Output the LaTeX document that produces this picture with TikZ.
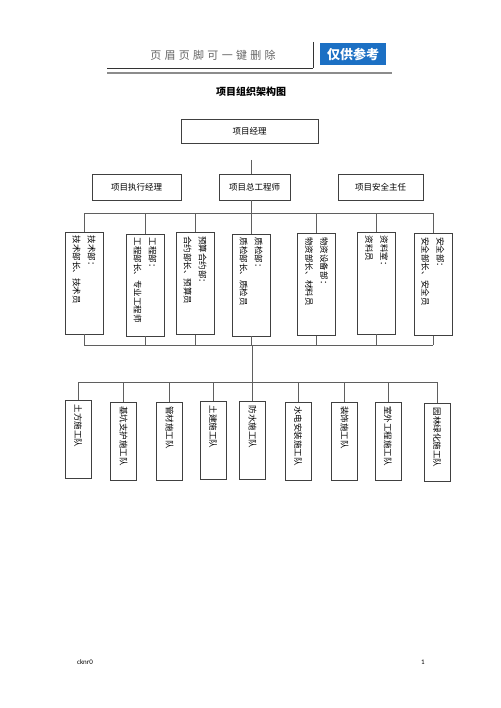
\documentclass[tikz,border=0pt]{standalone}
\usepackage{fontspec}
\setmainfont{Noto Sans CJK SC}
\newfontfamily\footfont{Carlito}
\usepackage{graphicx}
\usetikzlibrary{calc}
\definecolor{tagblue}{RGB}{28,112,196}
\definecolor{linegray}{RGB}{95,95,95}
\newcommand{\vtext}[2][94pt]{\rotatebox{-90}{\parbox{#1}{\fontsize{8.5}{15}\selectfont\raggedright #2}}}

\begin{document}
\begin{tikzpicture}[x=1pt,y=-1pt,line width=0.8pt,font=\fontsize{8.5}{10}\selectfont]
        \tikzstyle{box}=[rectangle,draw=black!75,inner sep=4pt]
        \tikzstyle{head}=[box,minimum height=26pt]
        \tikzstyle{dept}=[box,minimum width=38pt,minimum height=102pt]
        \tikzstyle{team}=[box,minimum width=26pt,minimum height=78pt]
        \tikzstyle{link}=[draw=linegray]
        \useasboundingbox (0,0) rectangle (500,708);
        \node[text=black!60,font=\fontsize{11}{11}\selectfont] (hdr) at (213,55) {\addfontfeatures{LetterSpace=30}页眉页脚可一键删除};
        \node[fill=tagblue,text=white,minimum width=66pt,minimum height=22pt,font=\bfseries\fontsize{13}{13}\selectfont] (tag) at (353,54) {仅供参考};
        \draw[black!80,line width=0.6pt] (107,68) -- (313,68);
        \draw[black!80,line width=0.6pt] (313,42) -- (313,68);
        \draw[black!45,line width=1.5pt] (107,73) -- (392,73);
        \node[font=\bfseries\fontsize{10}{10}\selectfont] (title) at (251,92) {项目组织架构图};
        \node[head,minimum width=137pt,minimum height=24pt] (pm) at (249.5,131) {项目经理};
        \node[head,minimum width=89pt] (exec) at (136.5,187) {项目执行经理};
        \node[head,minimum width=71pt] (chief) at (254.5,187) {项目总工程师};
        \node[head,minimum width=85pt] (safety) at (380.5,187) {项目安全主任};
        \node[dept] (d1) at (84,283) {\vtext{技术部：\\技术部长、技术员}};
        \node[dept] (d2) at (145,285) {\vtext{工程部：\\工程部长、专业工程师}};
        \node[dept] (d3) at (195,283.5) {\vtext{预算合约部：\\合约部长、预算员}};
        \node[dept] (d4) at (251,285) {\vtext{质检部：\\质检部长、质检员}};
        \node[dept] (d5) at (316.5,284.5) {\vtext{物资设备部：\\物资部长、材料员}};
        \node[dept] (d6) at (376.5,283) {\vtext{资料室：\\资料员}};
        \node[dept] (d7) at (433,284.5) {\vtext{安全部：\\安全部长、安全员}};
        \node[team] (t1) at (78,439.5) {\vtext[70pt]{土方施工队}};
        \node[team] (t2) at (123.5,441) {\vtext[70pt]{基坑支护施工队}};
        \node[team] (t3) at (169.5,441) {\vtext[70pt]{管材施工队}};
        \node[team] (t4) at (213,440.5) {\vtext[70pt]{土建施工队}};
        \node[team] (t5) at (252.5,440.5) {\vtext[70pt]{防水施工队}};
        \node[team] (t6) at (298,441) {\vtext[70pt]{水电安装施工队}};
        \node[team] (t7) at (344.5,441) {\vtext[70pt]{装饰施工队}};
        \node[team] (t8) at (388,441) {\vtext[70pt]{室外工程施工队}};
        \node[team] (t9) at (437,442.5) {\vtext[70pt]{园林绿化施工队}};
        \node[font=\footfont\fontsize{7}{7}\selectfont] (foot) at (85,662) {cknr0};
        \node[font=\footfont\fontsize{7}{7}\selectfont] (page) at (423,662) {1};
        \coordinate (top) at (251,160);
        \coordinate (bar1) at (251.5,213);
        \coordinate (bar2) at (252,345);
        \coordinate (bar3) at (252,382);
        \draw[link] (top) -- (top |- chief.north);
        \draw[link] (chief.south -| bar1) -- (bar1);
        \draw[link] (d1.north |- bar1) -- (d7.north |- bar1);
        \draw[link] (d1.north) -- (d1.north |- bar1);
        \draw[link] (d2.north) -- (d2.north |- bar1);
        \draw[link] (d3.north) -- (d3.north |- bar1);
        \draw[link] (d4.north) -- (d4.north |- bar1);
        \draw[link] (d5.north) -- (d5.north |- bar1);
        \draw[link] (d6.north) -- (d6.north |- bar1);
        \draw[link] (d7.north) -- (d7.north |- bar1);
        \draw[link] (d1.south |- bar2) -- (d7.south |- bar2);
        \draw[link] (d1.south) -- (d1.south |- bar2);
        \draw[link] (d2.south) -- (d2.south |- bar2);
        \draw[link] (d3.south) -- (d3.south |- bar2);
        \draw[link] (d4.south) -- (d4.south |- bar2);
        \draw[link] (d5.south) -- (d5.south |- bar2);
        \draw[link] (d6.south) -- (d6.south |- bar2);
        \draw[link] (d7.south) -- (d7.south |- bar2);
        \draw[link] (bar2) -- (bar2 |- t5.north);
        \draw[link] (t1.north |- bar3) -- (t9.north |- bar3);
        \draw[link] (t1.north) -- (t1.north |- bar3);
        \draw[link] (t2.north) -- (t2.north |- bar3);
        \draw[link] (t3.north) -- (t3.north |- bar3);
        \draw[link] (t4.north) -- (t4.north |- bar3);
        \draw[link] (t6.north) -- (t6.north |- bar3);
        \draw[link] (t7.north) -- (t7.north |- bar3);
        \draw[link] (t8.north) -- (t8.north |- bar3);
        \draw[link] (t9.north) -- (t9.north |- bar3);
\end{tikzpicture}
\end{document}
